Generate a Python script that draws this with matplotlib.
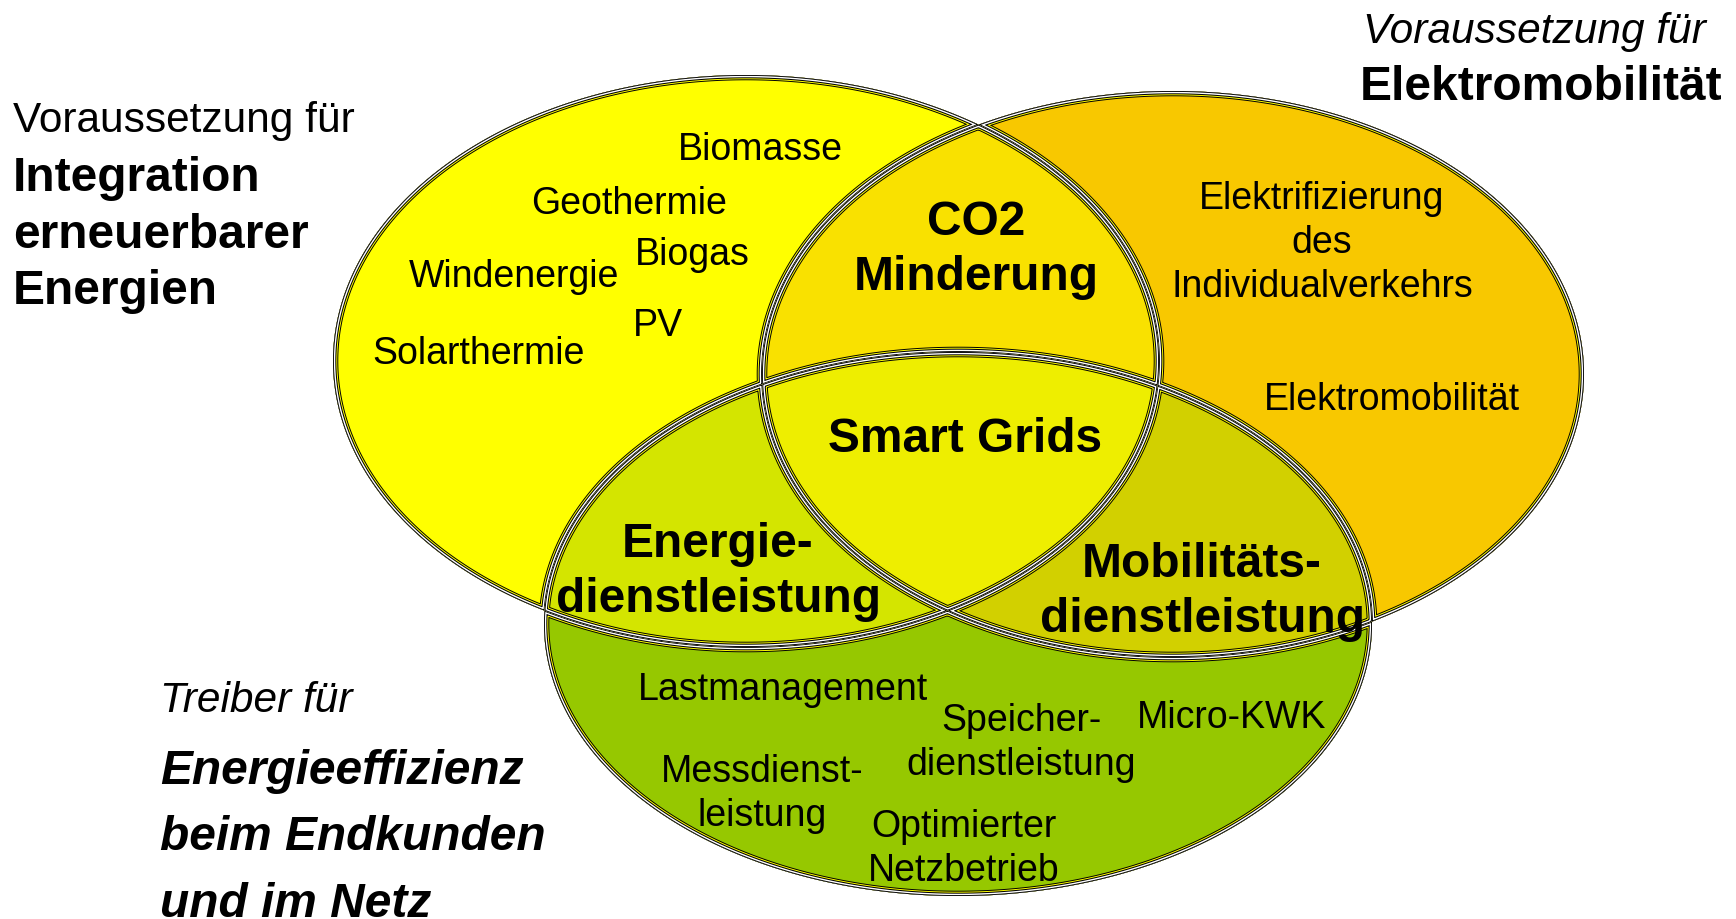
import numpy as np
import matplotlib
matplotlib.use('Agg')
import matplotlib.pyplot as plt
from matplotlib.path import Path
from matplotlib.patches import PathPatch

plt.rcParams['font.family'] = ['Liberation Sans', 'DejaVu Sans']

# labels of the diagram
set_names = ['A', 'B', 'C']
set_colors = ['#ffff00', '#f8c800', '#96c800']
overlap_colors = {'AB': '#f9e100', 'AC': '#d4e500', 'BC': '#d2d000', 'ABC': '#eeee00'}

outer_titles = [
    ('Voraussetzung für', 'normal', 'normal'),
    ('Integration\nerneuerbarer\nEnergien', 'bold', 'normal'),
    ('Voraussetzung für', 'normal', 'italic'),
    ('Elektromobilität', 'bold', 'normal'),
    ('Treiber für', 'normal', 'italic'),
    ('Energieeffizienz\nbeim Endkunden\nund im Netz', 'bold', 'italic'),
]
inner_items = ['Biomasse', 'Geothermie', 'Biogas', 'Windenergie', 'PV', 'Solarthermie',
               'Elektrifizierung\ndes\nIndividualverkehrs', 'Elektromobilität',
               'Lastmanagement', 'Speicher-\ndienstleistung', 'Micro-KWK',
               'Messdienst-\nleistung', 'Optimierter\nNetzbetrieb']
overlap_labels = ['CO2\nMinderung', 'Smart Grids', 'Energie-\ndienstleistung',
                  'Mobilitäts-\ndienstleistung']

# layout (pixel coordinates of the 1736x919 canvas)
ellipses = {'A': (746, 361, 413, 286), 'B': (1173, 374, 411, 283), 'C': (958, 624, 414, 272)}
title_pos = [(13, 121, 'left'), (13, 235, 'left'), (1706, 32, 'right'),
             (1722, 87, 'right'), (160, 701, 'left'), (160, 838, 'left')]
title_spacing = [1.2, 1.33, 1.2, 1.2, 1.2, 1.61]
inner_pos = [(760, 150), (629, 204), (692, 255), (514, 277), (658, 326), (479, 354),
             (1322, 243), (1392, 400), (783, 690), (1021, 743), (1232, 718),
             (762, 794), (964, 849)]
overlap_pos = [(976, 250), (965, 440), (718, 572), (1202, 592)]


def boundary(name, n=1440):
    cx, cy, a, b = ellipses[name]
    t = np.linspace(0, 2 * np.pi, n, endpoint=False)
    return np.column_stack([cx + a * np.cos(t), cy + b * np.sin(t)])


def inside(pts, name):
    cx, cy, a, b = ellipses[name]
    return ((pts[:, 0] - cx) / a) ** 2 + ((pts[:, 1] - cy) / b) ** 2 <= 1 + 1e-9


def intersection(names):
    keep = []
    for n in names:
        p = boundary(n)
        m = np.ones(len(p), bool)
        for o in names:
            if o != n:
                m &= inside(p, o)
        keep.append(p[m])
    pts = np.vstack(keep)
    c = pts.mean(axis=0)
    order = np.argsort(np.arctan2(pts[:, 1] - c[1], pts[:, 0] - c[0]))
    return pts[order]


def ring(pts, reverse=False):
    if reverse:
        pts = pts[::-1]
    return Path(np.vstack([pts, pts[:1]]), closed=True)


polys = {n: boundary(n) for n in set_names}
for key in overlap_colors:
    polys[key] = intersection(list(key))

regions = {
    'A': [ring(polys['A']), ring(polys['AB'], True), ring(polys['AC'], True), ring(polys['ABC'])],
    'B': [ring(polys['B']), ring(polys['AB'], True), ring(polys['BC'], True), ring(polys['ABC'])],
    'C': [ring(polys['C']), ring(polys['AC'], True), ring(polys['BC'], True), ring(polys['ABC'])],
    'AB': [ring(polys['AB']), ring(polys['ABC'], True)],
    'AC': [ring(polys['AC']), ring(polys['ABC'], True)],
    'BC': [ring(polys['BC']), ring(polys['ABC'], True)],
    'ABC': [ring(polys['ABC'])],
}
colors = dict(zip(set_names, set_colors))
colors.update(overlap_colors)

outline = [('black', 7.6), ('#ffff00', 6.2), ('black', 4.8), ('white', 3.3), ('black', 1.3)]

fig = plt.figure(figsize=(17.36, 9.19), dpi=100)
ax = fig.add_axes([0, 0, 1, 1])
ax.set_xlim(0, 1736)
ax.set_ylim(919, 0)
ax.axis('off')

for key, parts in regions.items():
    path = Path.make_compound_path(*parts)
    face = PathPatch(path, facecolor=colors[key], edgecolor='none')
    ax.add_patch(face)
    for col, lw in outline:
        edge = PathPatch(path, fill=False, edgecolor=col, linewidth=lw)
        ax.add_patch(edge)
        edge.set_clip_path(face)

for (txt, weight, style), (x, y, ha), ls in zip(outer_titles, title_pos, title_spacing):
    size = 34.5 if weight == 'bold' else 30.5
    ax.text(x, y, txt, ha=ha, va='center', fontsize=size,
            fontweight=weight, fontstyle=style, linespacing=ls, multialignment=ha)

for txt, (x, y) in zip(inner_items, inner_pos):
    ax.text(x, y, txt, ha='center', va='center', fontsize=27, linespacing=1.3)

for txt, (x, y) in zip(overlap_labels, overlap_pos):
    ax.text(x, y, txt, ha='center', va='center', fontsize=34.5, fontweight='bold',
            linespacing=1.3)

fig.savefig('out.png', dpi=100)
